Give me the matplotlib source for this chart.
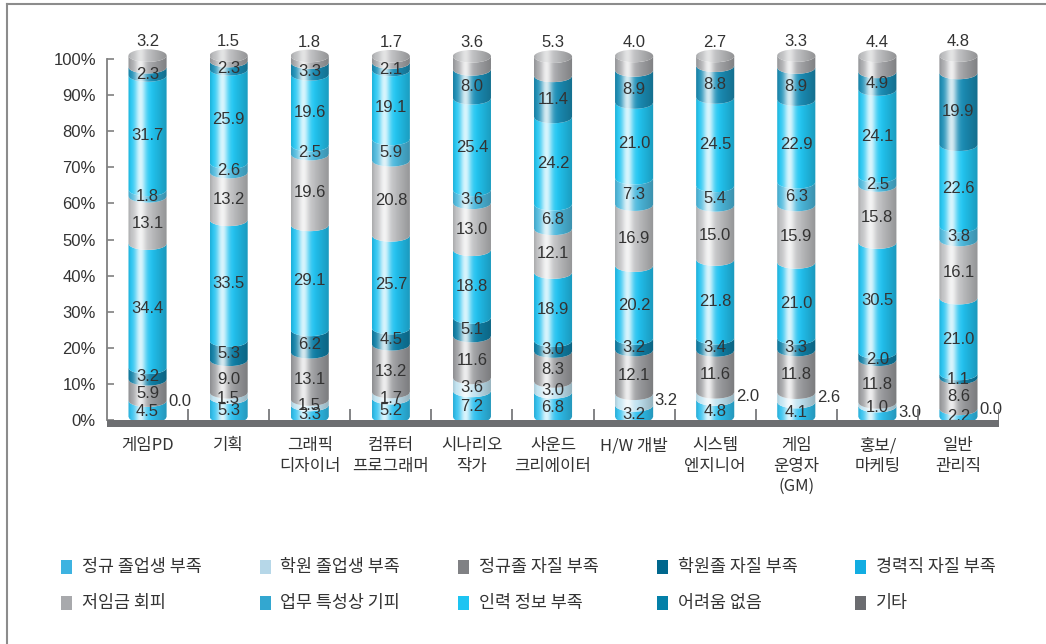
import numpy as np
import matplotlib
matplotlib.use('Agg')
import matplotlib.pyplot as plt
from matplotlib.path import Path
from matplotlib.patches import PathPatch, Rectangle, Ellipse
from matplotlib.lines import Line2D
from matplotlib.colors import to_rgb

# ---------------- data ----------------
categories = ['게임PD', '기획', '그래픽\n디자이너', '컴퓨터\n프로그래머', '시나리오\n작가',
              '사운드\n크리에이터', 'H/W 개발', '시스템\n엔지니어', '게임\n운영자\n(GM)',
              '홍보/\n마케팅', '일반\n관리직']

series_names = ['정규 졸업생 부족', '학원 졸업생 부족', '정규졸 자질 부족', '학원졸 자질 부족',
                '경력직 자질 부족', '저임금 회피', '업무 특성상 기피', '인력 정보 부족',
                '어려움 없음', '기타']

regular_grad_short = [4.5, 5.3, 3.3, 5.2, 7.2, 6.8, 3.2, 4.8, 4.1, 3.0, 2.2]
academy_grad_short = [0.0, 1.5, 1.5, 1.7, 3.6, 3.0, 3.2, 2.0, 2.6, 1.0, 0.0]
regular_quality = [5.9, 9.0, 13.1, 13.2, 11.6, 8.3, 12.1, 11.6, 11.8, 11.8, 8.6]
academy_quality = [3.2, 5.3, 6.2, 4.5, 5.1, 3.0, 3.2, 3.4, 3.3, 2.0, 1.1]
career_quality = [34.4, 33.5, 29.1, 25.7, 18.8, 18.9, 20.2, 21.8, 21.0, 30.5, 21.0]
low_wage = [13.1, 13.2, 19.6, 20.8, 13.0, 12.1, 16.9, 15.0, 15.9, 15.8, 16.1]
job_avoid = [1.8, 2.6, 2.5, 5.9, 3.6, 6.8, 7.3, 5.4, 6.3, 2.5, 3.8]
info_lack = [31.7, 25.9, 19.6, 19.1, 25.4, 24.2, 21.0, 24.5, 22.9, 24.1, 22.6]
no_difficulty = [2.3, 2.3, 3.3, 2.1, 8.0, 11.4, 8.9, 8.8, 8.9, 4.9, 19.9]
others = [3.2, 1.5, 1.8, 1.7, 3.6, 5.3, 4.0, 2.7, 3.3, 4.4, 4.8]

series_values = [regular_grad_short, academy_grad_short, regular_quality, academy_quality,
                 career_quality, low_wage, job_avoid, info_lack, no_difficulty, others]

# which segment's label is written to the right of the bar (category -> series index)
outside_label = {0: 1, 6: 1, 7: 1, 8: 1, 9: 0, 10: 1}

# ---------------- style ----------------
legend_colors = ['#3DB3E1', '#B6D7E8', '#808184', '#00678D', '#12ADE2',
                 '#A8A9AC', '#33A7D0', '#1DC4F2', '#0480A8', '#6B6C70']
bar_colors = ['#2FC0EE', '#BFE2F0', '#9C9DA0', '#0F7FA6', '#22C2F0',
              '#BDBEC0', '#4CB8DC', '#22C6F2', '#1A8DB5', '#A3A4A7']
text_color = '#333333'
axis_gray = '#808080'
num_font = 'Liberation Sans'
kr_font = ['Noto Sans CJK KR', 'DejaVu Sans']

W, H = 1046, 644
fig = plt.figure(figsize=(W / 100, H / 100), dpi=100)
ax = fig.add_axes([107 / W, (H - 427.2) / H, 892 / W, (427.2 - 23) / H])

bw = 0.47      # bar width (data units)
d = 1.75       # ellipse semi-minor (data units)


def gradient(color, n=96, strength=0.82):
    c = np.array(to_rgb(color))
    u = np.linspace(0, 1, n)
    hl = strength * np.exp(-((u - 0.32) / 0.15) ** 2)
    dk = 0.22 * np.clip((u - 0.58) / 0.42, 0, 1)
    edge = 0.10 * np.clip((0.08 - u) / 0.08, 0, 1)
    col = c[None, :] * (1 - dk - edge)[:, None]
    col = col * (1 - hl)[:, None] + hl[:, None]
    return np.clip(col, 0, 1)[None, :, :]


def seg_patch(xc, b, t, n=40):
    u = np.linspace(-1, 1, n)
    xs = xc + u * bw / 2
    arc = d * np.sqrt(1 - u ** 2)
    yb = b + d / 2 - arc
    yt = t + d / 2 - arc
    verts = list(zip(xs, yb)) + list(zip(xs[::-1], yt[::-1])) + [(xs[0], yb[0])]
    codes = [Path.MOVETO] + [Path.LINETO] * (len(verts) - 2) + [Path.CLOSEPOLY]
    return PathPatch(Path(verts, codes), facecolor='none', edgecolor='none')


n_cat = len(categories)
for i in range(n_cat):
    bottom = 0.0
    for k in range(len(series_values)):
        v = series_values[k][i]
        top = bottom + v
        if v > 0:
            p = seg_patch(i, bottom, top)
            ax.add_patch(p)
            im = ax.imshow(gradient(bar_colors[k]), extent=[i - bw / 2, i + bw / 2, bottom - d, top + d],
                           aspect='auto', interpolation='bilinear', zorder=2)
            im.set_clip_path(p)
        mid = (bottom + top) / 2
        if k == len(series_values) - 1:
            ax.text(i, top + 4.7, f'{v:.1f}', ha='center', va='center', fontsize=12,
                    family=num_font, color=text_color, zorder=4)
        elif outside_label.get(i) == k:
            ax.text(i + bw / 2 + 0.02, mid + 0.7, f'{v:.1f}', ha='left', va='center', fontsize=12,
                    family=num_font, color=text_color, zorder=4)
        else:
            ax.text(i, mid, f'{v:.1f}', ha='center', va='center', fontsize=12,
                    family=num_font, color=text_color, zorder=4)
        bottom = top
    # top cap
    cap = Ellipse((i, bottom + d / 2), bw, 2 * d, facecolor='none', edgecolor='none')
    ax.add_patch(cap)
    imc = ax.imshow(gradient('#B9BABC', strength=0.6), extent=[i - bw / 2, i + bw / 2, bottom - d, bottom + 2 * d],
                    aspect='auto', interpolation='bilinear', zorder=3)
    imc.set_clip_path(cap)

# base
ax.add_patch(Rectangle((-0.53, -2.0), n_cat + 0.03, 2.0, facecolor='#6D6E71', edgecolor='none', zorder=5))
for k in range(n_cat):
    ax.plot([k + 0.5, k + 0.5], [-0.5, 3.0], color='#6D6E71', lw=1.2, zorder=6, solid_capstyle='butt')

# category labels
for i, c in enumerate(categories):
    ax.text(i, -4.8, c, ha='center', va='top', fontsize=12, family=kr_font,
            color=text_color, linespacing=1.25)

ax.set_xlim(-0.5, n_cat - 0.5)
ax.set_ylim(-2, 110)
for s in ['top', 'right', 'bottom']:
    ax.spines[s].set_visible(False)
ax.spines['left'].set_bounds(0, 100)
ax.spines['left'].set_color(axis_gray)
ax.spines['left'].set_linewidth(1.3)
ax.set_xticks([])
yt = list(range(0, 101, 10))
ax.set_yticks(yt)
ax.set_yticklabels([f'{v}%' for v in yt], fontsize=12, family=num_font, color=text_color)
ax.tick_params(axis='y', direction='in', length=5, width=1.2, color=axis_gray, pad=8)
ax.patch.set_alpha(0)

# legend
row_y = [567, 603]
for j, name in enumerate(series_names):
    r, c = divmod(j, 5)
    x0 = 61 + c * 198.5
    yc = row_y[r]
    fig.add_artist(Rectangle((x0 / W, (H - yc - 7) / H), 11 / W, 14 / H,
                             transform=fig.transFigure, facecolor=legend_colors[j], edgecolor='none'))
    fig.text((x0 + 21) / W, (H - yc) / H, name, ha='left', va='center', fontsize=12.5,
             family=kr_font, color=text_color)

# frame lines
fig.add_artist(Line2D([7 / W, 1], [1 - 4 / H, 1 - 4 / H], transform=fig.transFigure, color='#8C8C8C', lw=1.5))
fig.add_artist(Line2D([7 / W, 7 / W], [0, 1 - 4 / H], transform=fig.transFigure, color='#8C8C8C', lw=1.5))

fig.savefig('out.png', dpi=100)
